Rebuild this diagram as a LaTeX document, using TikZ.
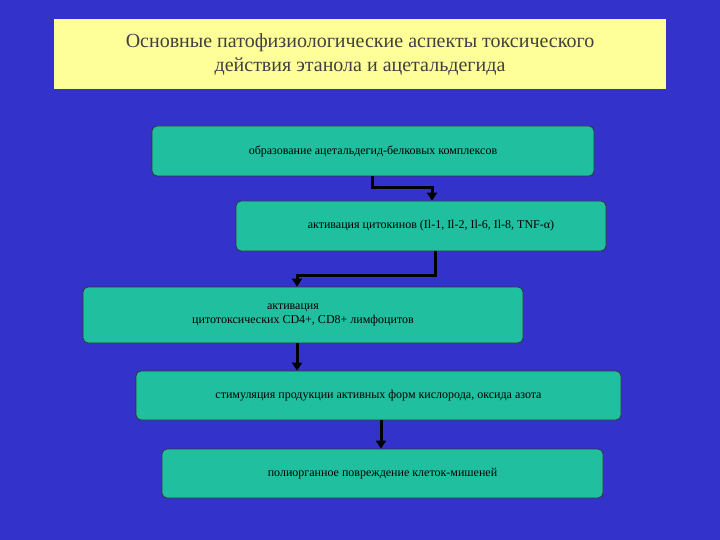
\documentclass[tikz,border=0pt]{standalone}
\usepackage{fontspec}
\setmainfont{Liberation Serif}
\usetikzlibrary{arrows.meta}
\definecolor{bg}{HTML}{3333CC}
\definecolor{ttl}{HTML}{FFFF99}
\definecolor{bx}{HTML}{1FBF9F}
\tikzset{
 box/.style={draw=black!80,line width=0.8pt,fill=bx,rounded corners=5pt,font=\fontsize{12}{14}\selectfont,align=center},
 conn/.style={draw=black,line width=3pt,-{Triangle[length=8pt,width=10pt]}}
}
\begin{document}
\begin{tikzpicture}[x=1pt,y=-1pt]
\fill[bg] (0,0) rectangle (720,540);
\useasboundingbox (0,0) rectangle (720,540);
\node[fill=ttl,minimum width=612pt,minimum height=70pt,inner sep=0pt,align=center,font=\fontsize{20}{24}\selectfont,text=black!75] (t) at (360,54) {Основные патофизиологические аспекты токсического\\действия этанола и ацетальдегида};
\node[box,minimum width=442pt,minimum height=50pt] (b1) at (373,151) {образование ацетальдегид-белковых комплексов};
\node[box,minimum width=370pt,minimum height=50pt] (b2) at (421,226) {\hspace*{20pt}активация цитокинов (Il-1, Il-2, Il-6, Il-8, TNF-α)};
\node[box,minimum width=440pt,minimum height=56pt] (b3) at (303,315) {\hspace*{-20pt}активация\\цитотоксических CD4+, CD8+ лимфоцитов};
\node[box,minimum width=485pt,minimum height=49pt] (b4) at (378.5,395.5) {стимуляция продукции активных форм кислорода, оксида азота};
\node[box,minimum width=441pt,minimum height=49pt] (b5) at (382.5,473.5) {полиорганное повреждение клеток-мишеней};
\coordinate (a1) at (372,188);
\coordinate (a2) at (432,188);
\coordinate (c1) at (435,275);
\coordinate (c2) at (297,275);
\draw[conn] (b1.south -| a1) -- (a1) -- (a2) -- (b2.north -| a2);
\draw[conn] (b2.south -| c1) -- (c1) -- (c2) -- (b3.north -| c2);
\draw[conn] (b3.south -| c2) -- (b4.north -| c2);
\draw[conn] (b4.south -| 381,0) -- (b5.north -| 381,0);
\end{tikzpicture}
\end{document}
